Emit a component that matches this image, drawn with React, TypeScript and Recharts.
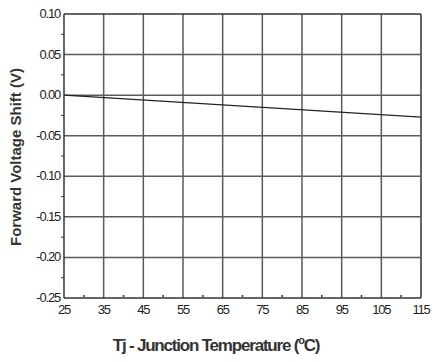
import React from 'react';
import { LineChart, Line, XAxis, YAxis, ReferenceLine } from 'recharts';

const temps = [25, 115];
const shift = [0, -0.027];

const xMajor = [25, 35, 45, 55, 65, 75, 85, 95, 105, 115];
const xMinor = [30, 40, 50, 60, 70, 80, 90, 100, 110];
const yMajor = [-0.25, -0.2, -0.15, -0.1, -0.05, 0, 0.05, 0.1];
const yMinor = [-0.225, -0.175, -0.125, -0.075, -0.025, 0.025, 0.075];

const data = temps.map((t, i) => ({ t, v: shift[i] }));

const font = '"Liberation Sans", Arial, sans-serif';
const gridColor = '#5a5a5a';
const frameColor = '#333';

const isMinor = (list: number[], v: number) => list.some((m) => Math.abs(m - v) < 1e-6);

const YTick = (props: any) => {
  const { x, y, payload } = props;
  if (isMinor(yMinor, payload.value)) {
    return <line x1={x + 5} x2={x + 8} y1={y} y2={y} stroke={frameColor} strokeWidth={1} />;
  }
  return (
    <text x={x + 4} y={y + 4} textAnchor="end" fontSize={13} fill="#222" fontFamily={font} letterSpacing={-1.2}>
      {payload.value.toFixed(2)}
    </text>
  );
};

const XTick = (props: any) => {
  const { x, y, payload } = props;
  if (isMinor(xMinor, payload.value)) {
    return <line x1={x} x2={x} y1={y - 9} y2={y - 11} stroke={frameColor} strokeWidth={1.5} />;
  }
  return (
    <text x={x} y={y + 8} textAnchor="middle" fontSize={13} fill="#222" fontFamily={font} letterSpacing={-1.2}>
      {payload.value}
    </text>
  );
};

export default function App() {
  return (
    <div style={{ position: 'absolute', left: 0, top: 0, width: 432, height: 362, background: '#fff' }}>
      <LineChart width={432} height={362} data={data} margin={{ top: 14, right: 11, bottom: 34, left: 4 }}>
        <XAxis
          dataKey="t"
          type="number"
          domain={[25, 115]}
          ticks={[...xMajor, ...xMinor].sort((a, b) => a - b)}
          interval={0}
          tick={<XTick />}
          tickLine={false}
          axisLine={{ stroke: frameColor, strokeWidth: 1.5 }}
        />
        <YAxis
          type="number"
          domain={[-0.25, 0.1]}
          ticks={[...yMajor, ...yMinor].sort((a, b) => a - b)}
          interval={0}
          width={60}
          tick={<YTick />}
          tickLine={false}
          axisLine={{ stroke: frameColor, strokeWidth: 1.5 }}
        />
        {xMajor.slice(1).map((v) => (
          <ReferenceLine key={'x' + v} x={v} stroke={v === 115 ? frameColor : gridColor} strokeWidth={1.5} />
        ))}
        {yMajor.slice(1).map((v) => (
          <ReferenceLine key={'y' + v} y={v} stroke={v === 0.1 ? frameColor : gridColor} strokeWidth={1.5} />
        ))}
        <Line dataKey="v" stroke="#222" strokeWidth={1.2} dot={false} isAnimationActive={false} />
      </LineChart>
      <div
        style={{
          position: 'absolute',
          left: 15,
          top: 157,
          transform: 'translate(-50%, -50%) rotate(-90deg)',
          whiteSpace: 'nowrap',
          fontFamily: font,
          fontWeight: 'bold',
          fontSize: 15,
          color: '#333',
        }}
      >
        Forward Voltage Shift (V)
      </div>
      <div
        style={{
          position: 'absolute',
          left: 0,
          width: 432,
          top: 334,
          textAlign: 'center',
          fontFamily: font,
          fontWeight: 'bold',
          fontSize: 17,
          color: '#333',
          letterSpacing: -1.2,
          lineHeight: '24px',
        }}
      >
        Tj - Junction Temperature (<sup style={{ fontSize: 11, lineHeight: 0 }}>o</sup>C)
      </div>
    </div>
  );
}
